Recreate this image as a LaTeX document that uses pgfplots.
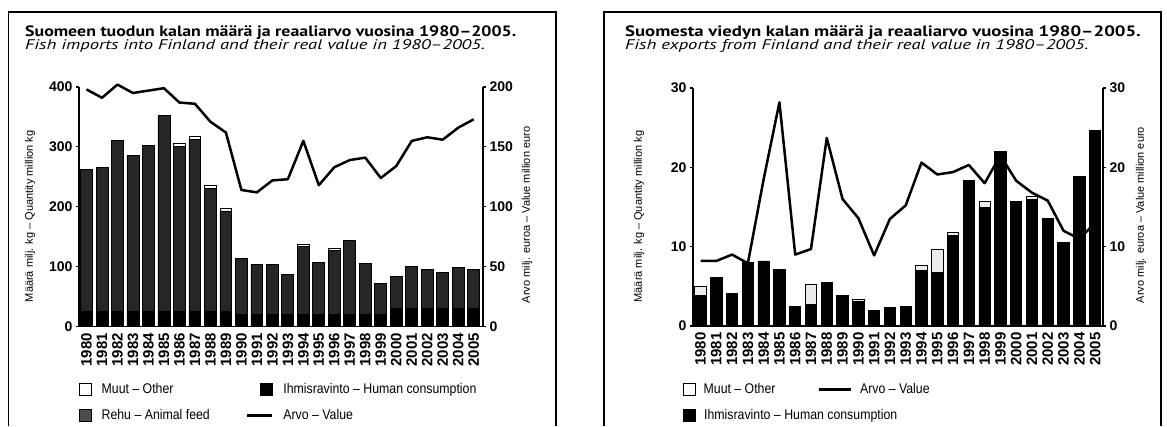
\documentclass[border=0pt]{standalone}
\usepackage{pgfplots}
\pgfplotsset{compat=1.18}
\usepackage{fontspec}
\setmainfont{Liberation Sans}
\newfontfamily\titlefont{PT Sans}
\newfontfamily\legfont[FakeStretch=0.88]{Liberation Sans}
\newcommand{\ttl}[2][1.19]{\scalebox{#1}[1]{\titlefont\bfseries\fontsize{15}{17}\selectfont #2}}
\newcommand{\sttl}[1]{\scalebox{1.33}[1]{\titlefont\itshape\fontsize{14}{16}\selectfont #1}}
\pgfplotsset{
  base/.style={
    scale only axis, anchor=south west,
    tick align=outside, major tick length=3pt,
    axis line style={line width=1.5pt},
    tick style={line width=1.2pt, black},
    yticklabel style={font=\bfseries\fontsize{14}{16}\selectfont},
    /pgf/number format/assume math mode=true,
    ylabel style={font=\fontsize{11}{13}\selectfont},
    clip=false,
  },
  boximg/.style={legend image code/.code={\path[draw=none,fill=none] (0pt,0pt) -- (25pt,0pt); \draw[black, line width=0.9pt, fill=#1] (13pt,-6pt) rectangle (25pt,6pt);}},
  lineimg/.style={legend image code/.code={\draw[black, line width=2.5pt] (0pt,0pt) -- (#1,0pt);}},
}
\begin{document}
\begin{tikzpicture}[x=1pt,y=1pt]
\useasboundingbox (0pt,0pt) rectangle (1167pt,426pt);
% panel frames
\draw[line width=1.5pt] (8.5pt,0pt) -- (8.5pt,414pt) -- (556pt,414pt) -- (556pt,0pt);
\draw[line width=1.5pt] (604pt,0pt) -- (604pt,414pt) -- (1161pt,414pt) -- (1161pt,0pt);
% titles
\node[anchor=base west, inner sep=0pt] at (25pt,389pt) {\ttl{Suomeen tuodun kalan määrä ja reaaliarvo vuosina 1980–2005.}};
\node[anchor=base west, inner sep=0pt] at (25pt,376pt) {\sttl{Fish imports into Finland and their real value in 1980–2005.}};
\node[anchor=base west, inner sep=0pt] at (625pt,389pt) {\ttl[1.25]{Suomesta viedyn kalan määrä ja reaaliarvo vuosina 1980–2005.}};
\node[anchor=base west, inner sep=0pt] at (625pt,376pt) {\sttl{Fish exports from Finland and their real value in 1980–2005.}};

% ---------- Imports: bars ----------
\begin{axis}[base, at={(79pt,99.5pt)}, width=404pt, height=239.5pt,
  xmin=-0.484, xmax=25.6, ymin=0, ymax=400,
  axis x line*=bottom, axis y line*=left,
  ybar stacked, bar width=0.77,
  ytick={0,100,200,300,400},
  xtick={0,...,25},
  xticklabels={1980,1981,1982,1983,1984,1985,1986,1987,1988,1989,1990,1991,1992,1993,1994,1995,1996,1997,1998,1999,2000,2001,2002,2003,2004,2005},
  x tick label style={rotate=90, anchor=east, font=\bfseries\fontsize{15}{17}\selectfont},
  xtick style={draw=none},
  ylabel={Määrä milj. kg – Quantity million kg},
  ylabel style={at={(axis description cs:-0.1213,0.46)}, anchor=center},
  legend columns=2, legend cell align=left,
  legend style={draw=none, fill=none, at={(axis description cs:-0.0396,-0.2276)}, anchor=north west,
    font=\legfont\fontsize{14}{16}\selectfont, nodes={inner sep=0pt, text height=10pt, text depth=2.9pt},
    row sep=13pt,
    /tikz/every odd column/.append style={column sep=10pt},
    /tikz/every even column/.append style={column sep=36pt}},
]
\addplot+[forget plot, fill=black, draw=black, line width=0.8pt] coordinates {
(0,25)(1,25)(2,25)(3,25)(4,25)(5,25)(6,25)(7,25)(8,25)(9,25)(10,20)(11,20)(12,20)(13,20)(14,20)(15,20)(16,20)(17,20)(18,20)(19,20)(20,30)(21,30)(22,30)(23,30)(24,30)(25,30)};
\addplot+[forget plot, fill=black!85, draw=black, line width=0.8pt] coordinates {
(0,238)(1,240)(2,285)(3,260)(4,277)(5,327)(6,276)(7,288)(8,205)(9,168)(10,93)(11,83)(12,83)(13,67)(14,113)(15,87)(16,107)(17,123)(18,85)(19,52)(20,54)(21,71)(22,65)(23,61)(24,69)(25,65)};
\addplot+[forget plot, fill=white, draw=black, line width=0.8pt] coordinates {
(0,0)(1,0)(2,0)(3,0)(4,0)(5,0)(6,4)(7,4)(8,5)(9,4)(10,0)(11,0)(12,0)(13,0)(14,4)(15,0)(16,4)(17,0)(18,0)(19,0)(20,0)(21,0)(22,0)(23,0)(24,0)(25,0)};
\addlegendimage{boximg=white}
\addlegendentry{Muut – Other}
\addlegendimage{boximg=black}
\addlegendentry{Ihmisravinto – Human consumption}
\addlegendimage{boximg=black!70}
\addlegendentry{Rehu – Animal feed}
\addlegendimage{lineimg=25pt}
\addlegendentry{Arvo – Value}
\end{axis}
% ---------- Imports: value line ----------
\begin{axis}[base, at={(79pt,99.5pt)}, width=404pt, height=239.5pt,
  xmin=-0.484, xmax=25.6, ymin=0, ymax=200,
  axis y line*=right, axis x line=none,
  ytick={0,50,100,150,200},
  ylabel={Arvo milj. euroa – Value million euro},
  ylabel style={at={(axis description cs:1.109,0.466)}, anchor=center},
]
\addplot[black, line width=2.5pt, line join=round] coordinates {
(0,198)(1,191)(2,202)(3,195)(4,197)(5,199)(6,187)(7,186)(8,171)(9,162)(10,114)(11,112)(12,122)(13,123)(14,155)(15,118)(16,133)(17,139)(18,141)(19,124)(20,134)(21,155)(22,158)(23,156)(24,166)(25,173)};
\end{axis}

% ---------- Exports: bars ----------
\begin{axis}[base, at={(693pt,100pt)}, width=410pt, height=238pt,
  xmin=-0.475, xmax=25.5, ymin=0, ymax=30,
  axis x line*=bottom, axis y line*=left,
  ybar stacked, bar width=0.72,
  ytick={0,10,20,30},
  xtick={0,...,25},
  xticklabels={1980,1981,1982,1983,1984,1985,1986,1987,1988,1989,1990,1991,1992,1993,1994,1995,1996,1997,1998,1999,2000,2001,2002,2003,2004,2005},
  x tick label style={rotate=90, anchor=east, font=\bfseries\fontsize{15}{17}\selectfont},
  xtick style={draw=none},
  ylabel={Määrä milj. kg – Quantity million kg},
  ylabel style={at={(axis description cs:-0.1317,0.46)}, anchor=center},
  legend columns=2, legend cell align=left,
  legend style={draw=none, fill=none, at={(axis description cs:-0.0634,-0.2311)}, anchor=north west,
    font=\legfont\fontsize{14}{16}\selectfont, nodes={inner sep=0pt, text height=10pt, text depth=2.9pt},
    row sep=13pt,
    /tikz/every odd column/.append style={column sep=8pt},
    /tikz/every even column/.append style={column sep=42pt}},
]
\addplot+[forget plot, fill=black, draw=black, line width=0.8pt] coordinates {
(0,3.8)(1,6.1)(2,4.1)(3,8.0)(4,8.2)(5,7.1)(6,2.5)(7,2.7)(8,5.5)(9,3.8)(10,3.1)(11,2.0)(12,2.3)(13,2.5)(14,7.0)(15,6.7)(16,11.4)(17,18.3)(18,15.0)(19,22.0)(20,15.7)(21,16.0)(22,13.6)(23,10.5)(24,18.9)(25,24.7)};
\addplot+[forget plot, fill=black!8, draw=black, line width=0.8pt] coordinates {
(0,1.2)(1,0)(2,0)(3,0)(4,0)(5,0)(6,0)(7,2.5)(8,0)(9,0)(10,0.3)(11,0)(12,0)(13,0)(14,0.6)(15,2.9)(16,0.4)(17,0)(18,0.7)(19,0)(20,0)(21,0.3)(22,0)(23,0)(24,0)(25,0)};
\addlegendimage{boximg=white}
\addlegendentry{Muut – Other}
\addlegendimage{lineimg=32pt}
\addlegendentry{Arvo – Value}
\addlegendimage{boximg=black}
\addlegendentry{\rlap{Ihmisravinto – Human consumption}}
\end{axis}
% ---------- Exports: value line ----------
\begin{axis}[base, at={(693pt,100pt)}, width=410pt, height=238pt,
  xmin=-0.475, xmax=25.5, ymin=0, ymax=30,
  axis y line*=right, axis x line=none,
  ytick={0,10,20,30},
  ylabel={Arvo milj. euroa – Value million euro},
  ylabel style={at={(axis description cs:1.0927,0.466)}, anchor=center},
]
\addplot[black, line width=2.5pt, line join=round] coordinates {
(0,8.2)(1,8.2)(2,9.0)(3,7.9)(4,18.5)(5,28.2)(6,9.0)(7,9.7)(8,23.7)(9,16.0)(10,13.6)(11,8.9)(12,13.5)(13,15.2)(14,20.6)(15,19.1)(16,19.4)(17,20.3)(18,18.0)(19,21.5)(20,18.3)(21,16.8)(22,15.8)(23,12.0)(24,11.0)(25,13.0)};
\end{axis}
\end{tikzpicture}
\end{document}
